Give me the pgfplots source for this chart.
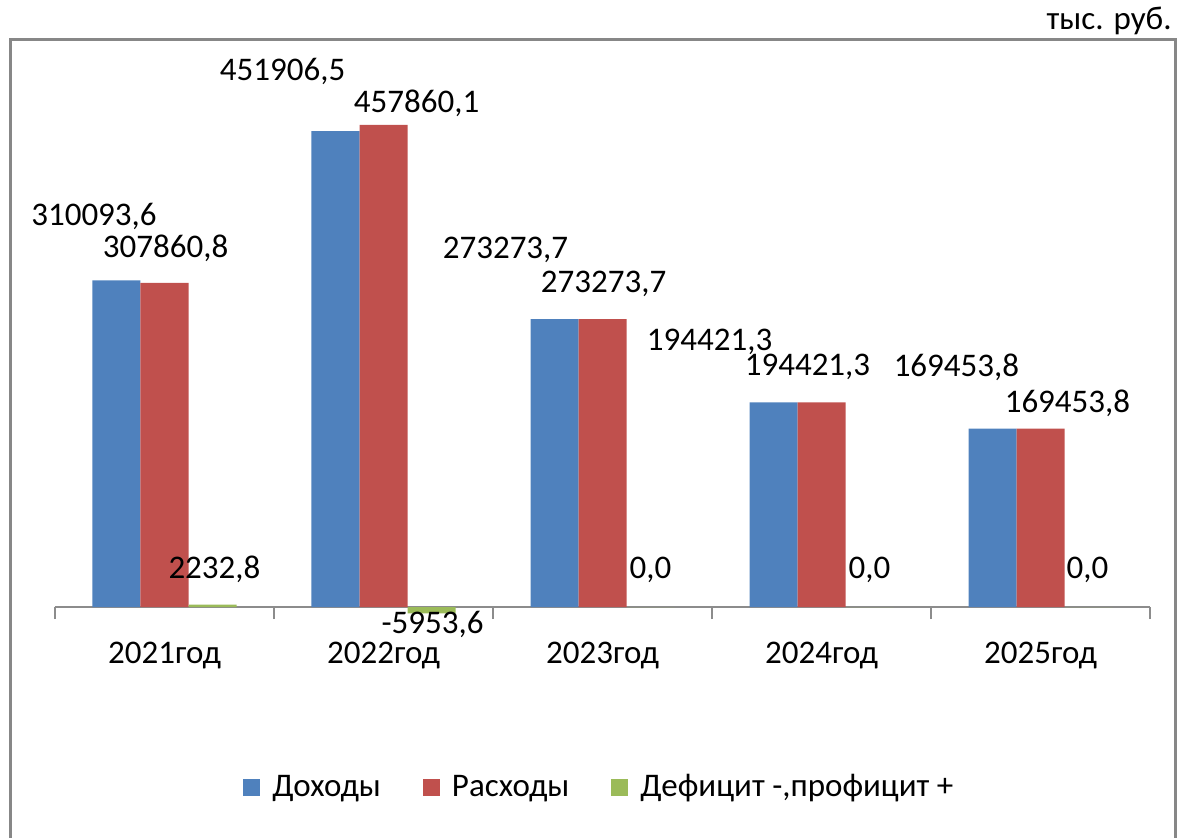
\documentclass[border=0pt]{standalone}
\usepackage{fontspec}
\setmainfont{Carlito}
\usepackage{pgfplots}
\pgfplotsset{compat=1.18}
\definecolor{cblue}{HTML}{4F81BD}
\definecolor{cred}{HTML}{C0504D}
\definecolor{cgreen}{HTML}{9BBB59}
\definecolor{framegray}{HTML}{878787}
\definecolor{axisg}{HTML}{8C8C8C}
\newcommand\fs{\fontsize{16.5pt}{19pt}\selectfont}
\pgfplotsset{sq/.style={legend image code/.code={\fill[##1] (0pt,-4.25pt) rectangle (8.5pt,4.25pt);}}}
\begin{document}
\begin{tikzpicture}
\useasboundingbox (0,0) rectangle (593.5pt,418.5pt);
\draw[framegray, line width=1.5pt] (5pt,-5pt) -- (5pt,398.5pt) -- (587.5pt,398.5pt) -- (587.5pt,-5pt);
\node[anchor=base east, font=\fs, inner sep=0pt] at (586pt,403.5pt) {тыс. руб.};
\begin{axis}[
  at={(27.5pt,115pt)}, anchor=south west, scale only axis,
  width=547.5pt, height=263.27pt,
  xmin=-0.5, xmax=4.5, ymin=0, ymax=500000, enlargelimits=false,
  ybar=0pt, bar width=24pt,
  axis x line*=bottom, axis y line=none,
  x axis line style={-, draw=axisg, line width=0.8pt},
  ytick=\empty,
  xtick={-0.5,0.5,1.5,2.5,3.5,4.5}, xticklabels={,,,,,},
  tick align=outside, major tick length=6pt,
  tick style={draw=axisg, line width=0.8pt},
  extra x ticks={0,1,2,3,4},
  extra x tick labels={2021год,2022год,2023год,2024год,2025год},
  extra x tick style={major tick length=0pt, tick label style={anchor=base, yshift=-28pt, font=\fs, inner sep=0pt}},
  clip=false,
  legend columns=3,
  legend style={at={(0.498,-0.342)}, anchor=center, draw=none, font=\fs,
    /tikz/every odd column/.append style={column sep=4pt},
    /tikz/every even column/.append style={column sep=19pt}},
]
\addplot[fill=cblue, draw=none, sq]
  coordinates {(0,310093.6) (1,451906.5) (2,273273.7) (3,194421.3) (4,169453.8)};
\addlegendentry{Доходы}
\addplot[fill=cred, draw=none, sq]
  coordinates {(0,307860.8) (1,457860.1) (2,273273.7) (3,194421.3) (4,169453.8)};
\addlegendentry{Расходы}
\addplot[fill=cgreen, draw=none, sq]
  coordinates {(0,2232.8) (1,-5953.6) (2,0) (3,0) (4,0)};
\addlegendentry{Дефицит -,профицит +}

\begin{scope}[every node/.style={anchor=base, font=\fs, inner sep=0pt}]
\node at (axis cs:-0.322,362081) {310093,6};
\node at (axis cs:0.005,332360) {307860,8};
\node at (axis cs:0.228,27538) {2232,8};
\node at (axis cs:0.539,500439) {451906,5};
\node at (axis cs:1.151,469387) {457860,1};
\node at (axis cs:1.224,-24690) {-5953,6};
\node at (axis cs:1.557,331410) {273273,7};
\node at (axis cs:2.005,299124) {273273,7};
\node at (axis cs:2.219,27538) {0,0};
\node at (axis cs:2.489,244047) {194421,3};
\node at (axis cs:2.936,220307) {194421,3};
\node at (axis cs:3.219,27538) {0,0};
\node at (axis cs:3.616,219358) {169453,8};
\node at (axis cs:4.123,185172) {169453,8};
\node at (axis cs:4.215,27538) {0,0};
\end{scope}
\end{axis}
\end{tikzpicture}
\end{document}
